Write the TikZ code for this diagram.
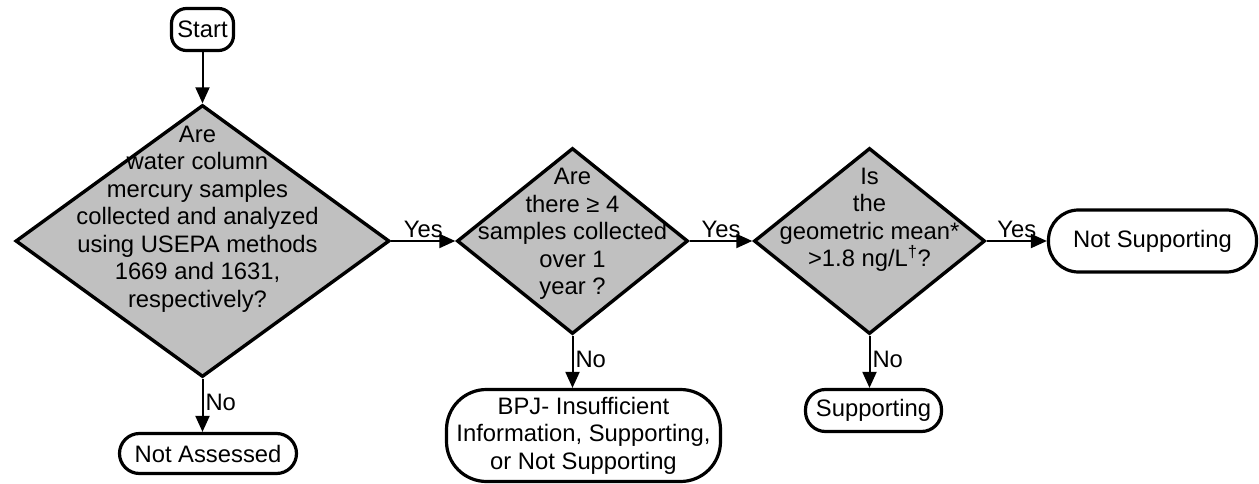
\documentclass[tikz,border=0pt]{standalone}
\usepackage{fontspec}
\setmainfont{Liberation Sans}
\usepackage{xcolor}
\usetikzlibrary{arrows.meta,shapes.geometric}

\definecolor{qgray}{HTML}{C0C0C0}
\tikzset{
  question/.style={draw, line width=3.4pt, fill=qgray, diamond, inner sep=0pt},
  term/.style={draw, line width=3.2pt, rounded corners=#1, align=center, inner sep=0pt},
  term/.default=20pt,
  qtext/.style={align=center, inner sep=0pt},
  flow/.style={->, line width=2pt},
  ans/.style={inner sep=2pt},
}

\begin{document}
\begin{tikzpicture}[x=1pt,y=-1pt,>={Triangle[length=16pt,width=14pt]},
  font=\fontsize{23.8}{27.5}\selectfont]
\useasboundingbox (0,0) rectangle (1259,484);
% end points
\node[term=15pt, minimum width=62pt, minimum height=42pt] (start) at (202.5,29.5) {Start};
\node[term, minimum width=177pt, minimum height=40pt] (na) at (208,453.5) {Not Assessed};
\node[term=40pt, minimum width=274pt, minimum height=92pt] (bpj) at (583.5,435.5)
  {BPJ- Insufficient\\Information, Supporting,\\or Not Supporting};
\node[term=30pt, minimum width=208pt, minimum height=62pt] (nsup) at (1152.5,241) {Not Supporting};
\node[term, minimum width=136pt, minimum height=42pt] (sup) at (873.5,410.5) {Supporting};
% questions
\node[question, minimum width=374pt, minimum height=272pt] (q1) at (202.5,241) {};
\node[question, minimum width=231pt, minimum height=186pt] (q2) at (572.5,241) {};
\node[question, minimum width=231pt, minimum height=186pt] (q3) at (869.5,241) {};
\node[qtext] (q1t) at ([xshift=-5pt,yshift=22pt]q1.center)
  {Are\\water column\\mercury samples\\collected and analyzed\\using USEPA methods\\1669 and 1631,\\respectively?};
\node[qtext] (q2t) at ([yshift=7pt]q2.center)
  {Are\\there ≥ 4\\samples collected\\over 1\\year ?};
\node[qtext] (q3t) at ([yshift=21pt]q3.center)
  {Is\\the\\geometric mean*\\>1.8 ng/L\textsuperscript{†}?};
% connectors
\draw[flow] (start) -- (q1);
\draw[flow] (q1.east) -- (q2.west) node[ans, above, midway]{Yes};
\draw[flow] (q2.east) -- (q3.west) node[ans, above, midway]{Yes};
\draw[flow] (q3.east) -- (nsup.west) node[ans, above, midway]{Yes};
\draw[flow] (q1.south) -- (q1.south |- na.north) node[ans, right, pos=0.45]{No};
\draw[flow] (q2.south) -- (q2.south |- bpj.north) node[ans, right, pos=0.45]{No};
\draw[flow] (q3.south) -- (q3.south |- sup.north) node[ans, right, pos=0.45]{No};
\end{tikzpicture}
\end{document}
